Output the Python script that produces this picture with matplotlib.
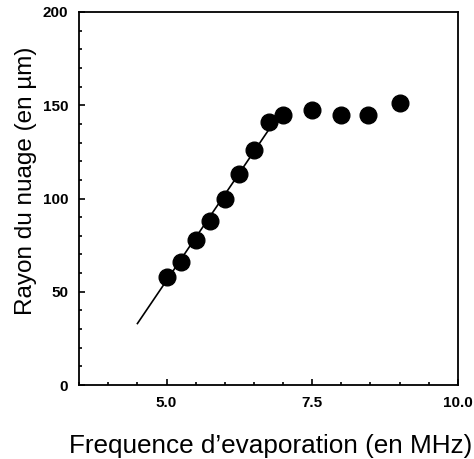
import numpy as np
import matplotlib.pyplot as plt
from matplotlib.ticker import MultipleLocator

# Measured cloud radius vs evaporation frequency
freq = [5.0, 5.25, 5.5, 5.75, 6.0, 6.25, 6.5, 6.75, 7.0, 7.5, 8.0, 8.45, 9.0]
rayon = [58, 66, 78, 88, 100, 113, 126, 141, 145, 147.5, 145, 145, 151]

# Linear fit segment
fit_x = [4.5, 6.8]
fit_y = [33, 139]

plt.rcParams["font.family"] = ["Liberation Sans", "DejaVu Sans"]

fig = plt.figure(figsize=(4.74, 4.59), dpi=100)
ax = fig.add_axes([0.167, 0.161, 0.799, 0.813])

ax.plot(fit_x, fit_y, color="black", linewidth=1.2)
ax.plot(freq, rayon, "o", color="black", markersize=12)

ax.set_xlim(3.5, 10.0)
ax.set_ylim(0, 200)
ax.xaxis.set_major_locator(MultipleLocator(2.5))
ax.xaxis.set_minor_locator(MultipleLocator(0.5))
ax.yaxis.set_major_locator(MultipleLocator(50))
ax.yaxis.set_minor_locator(MultipleLocator(10))
ax.set_xticks([5.0, 7.5, 10.0])
ax.set_xticklabels(["5.0", "7.5", "10.0"])
ax.tick_params(which="both", direction="in", width=1.2)
ax.tick_params(which="major", length=4, labelsize=11)
ax.tick_params(axis="x", which="major", pad=8)
ax.tick_params(axis="y", which="major", pad=8)
ax.tick_params(which="minor", length=2)
for lab in ax.get_xticklabels() + ax.get_yticklabels():
    lab.set_fontweight("bold")
for s in ax.spines.values():
    s.set_linewidth(1.3)

ax.set_xlabel("Frequence d\u2019evaporation (en MHz)", fontsize=18.8)
ax.set_ylabel("Rayon du nuage (en \u00b5m)", fontsize=17.5)
ax.xaxis.set_label_coords(0.505, -0.132)
ax.yaxis.set_label_coords(-0.111, 0.547)

fig.savefig("out.png", dpi=100)
